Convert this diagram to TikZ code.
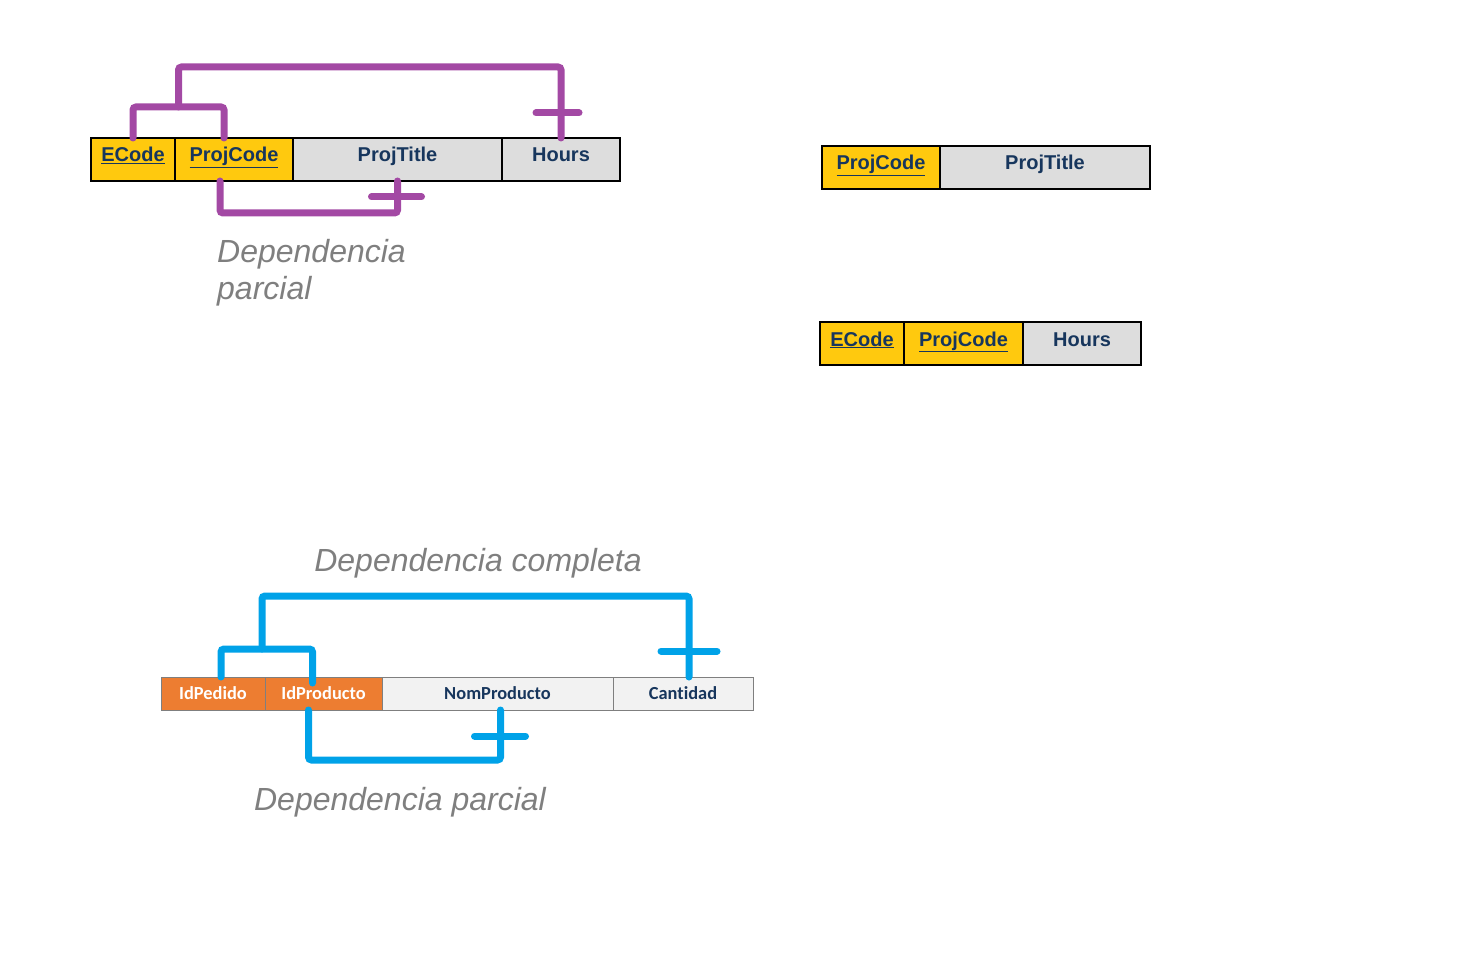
\documentclass[tikz,border=0pt]{standalone}
\usepackage{fontspec}
\setmainfont{Liberation Sans}
\newfontfamily\calibri[Ligatures=NoCommon]{Carlito}
\usetikzlibrary{positioning,calc}
\definecolor{keyyellow}{HTML}{FFC90E}
\definecolor{cellgrey}{HTML}{DDDDDD}
\definecolor{kenavy}{HTML}{17365D}
\definecolor{depurple}{HTML}{A349A4}
\definecolor{decyan}{HTML}{00A2E8}
\definecolor{keyorange}{HTML}{ED7D31}
\definecolor{softgrey}{HTML}{F2F2F2}
\definecolor{labelgrey}{HTML}{7F7F7F}

\begin{document}
\begin{tikzpicture}[x=1pt,y=-1pt,
      cell/.style={draw=black,line width=1.2pt,fill=cellgrey,minimum height=43pt,
                   inner sep=0pt,outer sep=0pt,text=kenavy,
                   text height=14pt,text depth=9pt,
                   font=\bfseries\fontsize{20}{24}\selectfont},
      keycell/.style={cell,fill=keyyellow},
      rowcell/.style={draw=labelgrey,line width=0.8pt,fill=softgrey,minimum height=33pt,
                      inner sep=0pt,outer sep=0pt,text=kenavy,
                      text height=12pt,text depth=1pt,
                      font=\calibri\bfseries\fontsize{18.4}{22}\selectfont},
      rowkey/.style={rowcell,fill=keyorange,text=white},
      purp/.style={depurple,line width=7pt,line cap=round,rounded corners=3pt},
      cyn/.style={decyan,line width=7pt,line cap=round,rounded corners=3pt},
      note/.style={text=labelgrey,font=\itshape\fontsize{32}{37}\selectfont,
                   inner sep=0pt,align=left}]
    \useasboundingbox (0,0) rectangle (1463,957);
    % original relation
    \node[keycell,minimum width=84pt,anchor=north west] (ec) at (91,138) {\underline{ECode}};
    \node[keycell,minimum width=118pt,right=0pt of ec] (pc) {\underline{ProjCode}};
    \node[cell,minimum width=209pt,right=0pt of pc] (pt) {ProjTitle};
    \node[cell,minimum width=118pt,right=0pt of pt] (hr) {Hours};
    % full dependency
    \coordinate (pcup) at ($(pc.north)+(-10,0)$);
    \draw[purp] (ec.north) -- ++(0,-31) -| (pcup);
    \draw[purp] ($(ec.north)!0.5!(pcup)+(0,-31)$) -- ++(0,-40) -| (hr.north);
    \draw[purp] ($(hr.north)+(-25,-25)$) -- ++(43,0);
    % partial dependency
    \draw[purp] ($(pc.south)+(-14,0)$) -- ++(0,32) -| (pt.south);
    \draw[purp] ($(pt.south)+(-26,16)$) -- ++(50,0);
    \node[note,anchor=base west] (lbl1) at (217,300) {Dependencia\\parcial};
    % decomposed relations
    \node[keycell,minimum width=118pt,anchor=north west] (pc2) at (822,146) {\underline{ProjCode}};
    \node[cell,minimum width=210pt,right=0pt of pc2] (pt2) {ProjTitle};
    \node[keycell,minimum width=84pt,anchor=north west] (ec3) at (820,322) {\underline{ECode}};
    \node[keycell,minimum width=119pt,right=0pt of ec3] (pc3) {\underline{ProjCode}};
    \node[cell,minimum width=118pt,right=0pt of pc3] (hr3) {Hours};
    % second example
    \node[rowkey,minimum width=104pt,anchor=north west] (idp) at (161,677) {IdPedido};
    \node[rowkey,minimum width=117pt,right=0pt of idp] (idr) {IdProducto};
    \node[rowcell,minimum width=231pt,right=0pt of idr] (nom) {NomProducto};
    \node[rowcell,minimum width=140pt,right=0pt of nom] (can) {Cantidad};
    \coordinate (idpup) at ($(idp.north)+(8,0)$);
    \coordinate (idrup) at ($(idr.north)+(-11,6)$);
    \draw[cyn] (idpup) -- ++(0,-28) -| (idrup);
    \draw[cyn] ($(idpup)!0.4!(idr.north)+(0,-28)$) -- ++(0,-53) -| ($(can.north)+(6,0)$);
    \draw[cyn] ($(can.north)+(-22,-26)$) -- ++(56,0);
    \draw[cyn] ($(idr.south)+(-15,0)$) -- ++(0,50) -| ($(nom.south)+(3,0)$);
    \draw[cyn] ($(nom.south)+(-23,26)$) -- ++(51,0);
    \node[note] (lbl2) at (478,563) {Dependencia completa};
    \node[note] (lbl3) at (400,802) {Dependencia parcial};
\end{tikzpicture}
\end{document}
